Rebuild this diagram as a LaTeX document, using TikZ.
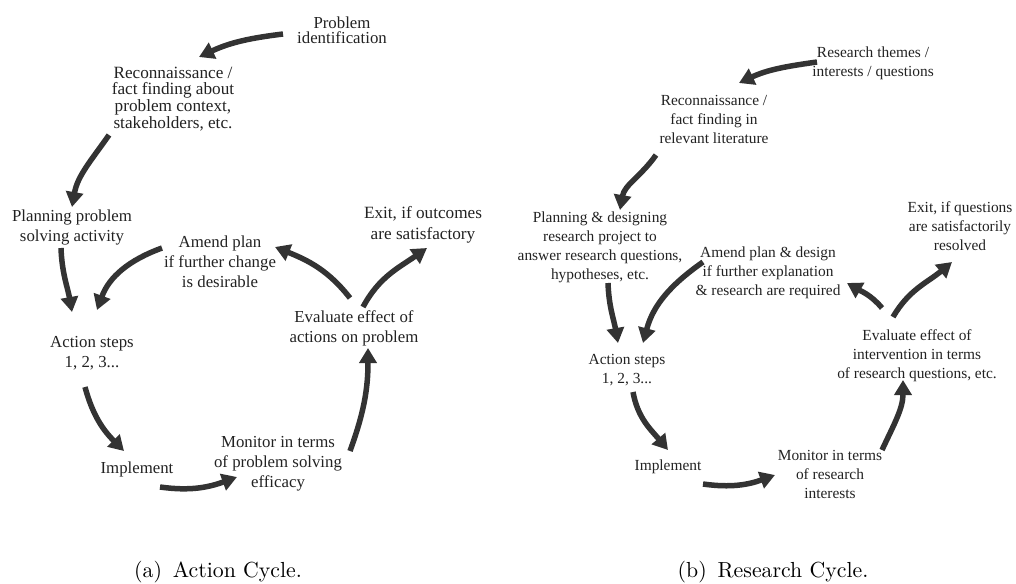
\documentclass[tikz,border=0pt]{standalone}
\usepackage{fontspec}
\newfontfamily\tms{Liberation Serif}
\usetikzlibrary{arrows.meta}
\definecolor{arrowgray}{HTML}{333333}
\definecolor{textgray}{HTML}{222222}
\tikzset{
  lbl/.style={align=center, inner sep=0pt, text=textgray, font=\tms\fontsize{8.4}{10}\selectfont},
  rlbl/.style={align=center, inner sep=0pt, text=textgray, font=\tms\fontsize{7.7}{9.5}\selectfont},
  flow/.style={draw=arrowgray, line width=2.75pt, -{Triangle[length=7.5pt,width=8.5pt]}},
  captext/.style={inner sep=0pt, font=\fontsize{10.9}{13}\selectfont}
}
\begin{document}
\begin{tikzpicture}[x=0.5pt,y=-0.5pt]
\useasboundingbox (0,0) rectangle (1016,583);
% ---------- left: action cycle ----------
\node[lbl, font=\tms\fontsize{8.4}{7.5}\selectfont] (lProb) at (342,30) {Problem\\identification};
\node[lbl, font=\tms\fontsize{8.6}{8.4}\selectfont] (lRec) at (173,99) {Reconnaissance /\\fact finding about\\problem context,\\stakeholders, etc.};
\node[lbl] (lPlan) at (72,227) {Planning problem\\solving activity};
\node[lbl] (lAmend) at (220,262) {Amend plan\\if further change\\is desirable};
\node[lbl, font=\tms\fontsize{8.6}{10.5}\selectfont] (lExit) at (423,225) {Exit, if outcomes\\are satisfactory};
\node[lbl] (lEval) at (354,328) {Evaluate effect of\\actions on problem};
\node[lbl] (lAct) at (92,353) {Action steps\\1, 2, 3...};
\node[lbl] (lImp) at (137,469) {Implement};
\node[lbl] (lMon) at (278,464) {Monitor in terms\\of problem solving\\efficacy};

\draw[flow] ([shift={(-59,4)}]lProb.center) to[out=187,in=25] ([shift={(26,-42)}]lRec.center);
\draw[flow] ([shift={(-64,36)}]lRec.center) to[out=235,in=80] ([shift={(0,-20)}]lPlan.center);
\draw[flow] ([shift={(-11,21)}]lPlan.center) to[out=272,in=100] ([shift={(-20,-41)}]lAct.center);
\draw[flow] ([shift={(-58,-14)}]lAmend.center) to[out=200,in=70] ([shift={(5,-43)}]lAct.center);
\draw[flow] ([shift={(-4,-30)}]lEval.center) to[out=128,in=-22] ([shift={(55,-15)}]lAmend.center);
\draw[flow] ([shift={(9,-21)}]lEval.center) to[out=62,in=215] ([shift={(4,23)}]lExit.center);
\draw[flow] ([shift={(-7,34)}]lAct.center) to[out=-75,in=135] ([shift={(-13,-18)}]lImp.center);
\draw[flow] ([shift={(23,18)}]lImp.center) to[out=-8,in=200] ([shift={(-41,13)}]lMon.center);
\draw[flow] ([shift={(72,-13)}]lMon.center) to[out=70,in=-90] ([shift={(14,20)}]lEval.center);

\node[captext] (capA) at (218,572) {(a)\hspace{0.5em}Action Cycle.};

% ---------- right: research cycle ----------
\node[rlbl] (rRes) at (873,63) {Research themes /\\interests / questions};
\node[rlbl] (rRec) at (714,119) {Reconnaissance /\\fact finding in\\relevant literature};
\node[rlbl] (rPlan) at (600,247) {Planning \& designing\\research project to\\answer research questions,\\hypotheses, etc.};
\node[rlbl] (rAmend) at (768,273) {Amend plan \& design\\if further explanation\\\& research are required};
\node[rlbl] (rExit) at (960,226) {Exit, if questions\\are satisfactorily\\resolved};
\node[rlbl] (rEval) at (917,356) {Evaluate effect of\\intervention in terms\\of research questions, etc.};
\node[rlbl] (rAct) at (627,370) {Action steps\\1, 2, 3...};
\node[rlbl] (rImp) at (668,467) {Implement};
\node[rlbl] (rMon) at (830,474) {Monitor in terms\\of research\\interests};

\draw[flow] ([shift={(-56,-1)}]rRes.center) to[out=188,in=25] ([shift={(25,-36)}]rRec.center);
\draw[flow] ([shift={(-58,36)}]rRec.center) to[out=235,in=80] ([shift={(20,-37)}]rPlan.center);
\draw[flow] ([shift={(8,36)}]rPlan.center) to[out=272,in=100] ([shift={(-9,-27)}]rAct.center);
\draw[flow] ([shift={(-65,-11)}]rAmend.center) to[out=215,in=75] ([shift={(16,-27)}]rAct.center);
\draw[flow] ([shift={(-35,-48)}]rEval.center) to[out=130,in=-30] ([shift={(79,10)}]rAmend.center);
\draw[flow] ([shift={(-24,-39)}]rEval.center) to[out=60,in=220] ([shift={(-8,36)}]rExit.center);
\draw[flow] ([shift={(6,22)}]rAct.center) to[out=-80,in=130] ([shift={(0,-17)}]rImp.center);
\draw[flow] ([shift={(35,17)}]rImp.center) to[out=-8,in=200] ([shift={(-55,1)}]rMon.center);
\draw[flow] ([shift={(52,-24)}]rMon.center) to[out=65,in=-90] ([shift={(-14,24)}]rEval.center);

\node[captext] (capB) at (773,572) {(b)\hspace{0.5em}Research Cycle.};
\end{tikzpicture}
\end{document}
